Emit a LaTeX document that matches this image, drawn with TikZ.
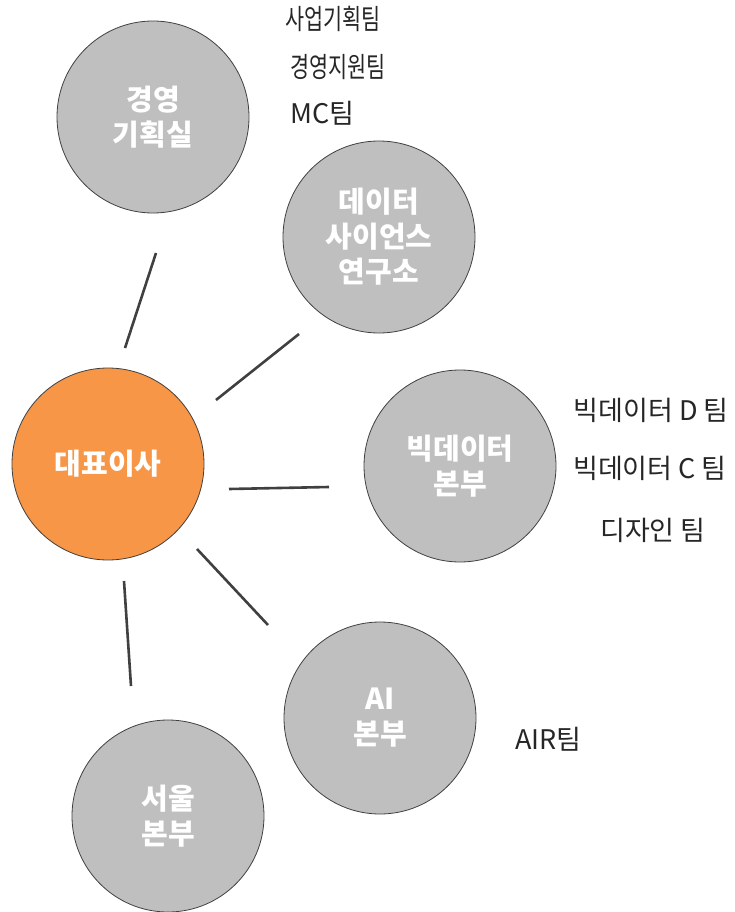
\documentclass[tikz,border=0pt]{standalone}
\usepackage{fontspec}
\setmainfont{Noto Sans CJK KR}
\newfontfamily\narrowfont{Noto Sans CJK KR}[FakeStretch=0.74]
\definecolor{orangefill}{HTML}{F79646}
\definecolor{grayfill}{HTML}{BFBFBF}
\definecolor{rimcol}{HTML}{404040}
\definecolor{txtcol}{HTML}{262626}
\begin{document}
\begin{tikzpicture}[x=1pt,y=-1pt,
  unit/.style={circle,draw=rimcol,line width=0.8pt,minimum size=192pt,inner sep=0pt,align=center,text=white,font=\bfseries\fontsize{29}{35}\selectfont},
  grayunit/.style={unit,fill=grayfill},
  orangeunit/.style={unit,fill=orangefill},
  team/.style={text=txtcol,font=\fontsize{27}{30}\selectfont,inner sep=0pt},
  narrowteam/.style={team,font=\narrowfont\fontsize{28}{30}\selectfont},
  link/.style={draw=rimcol,line width=2.6pt}]
\useasboundingbox (0,0) rectangle (734,912);
\node[grayunit] (plan) at (153,117) {경영\\기획실};
\node[grayunit] (ds) at (379,237) {데이터\\사이언스\\연구소};
\node[grayunit] (bd) at (460,466) {빅데이터\\본부};
\node[orangeunit] (ceo) at (108,464) {대표이사};
\node[grayunit] (ai) at (380,718) {AI\\본부};
\node[grayunit] (seoul) at (168,816) {서울\\본부};
\node[narrowteam,anchor=west] (t1) at (285,19) {사업기획팀};
\node[narrowteam,anchor=west] (t2) at (290,67) {경영지원팀};
\node[team,anchor=west] (t3) at (290,113) {MC팀};
\node[team,anchor=east] (t4) at (729,410) {빅데이터 D 팀};
\node[team,anchor=east] (t5) at (727,468) {빅데이터 C 팀};
\node[team] (t6) at (653,530) {디자인 팀};
\node[team,anchor=west] (t7) at (515,739) {AIR팀};
\coordinate (a1) at (125,348); \coordinate (a2) at (156,253);
\coordinate (b1) at (216,400); \coordinate (b2) at (299,334);
\coordinate (c1) at (229,489); \coordinate (c2) at (329,487);
\coordinate (d1) at (197,549); \coordinate (d2) at (268,625);
\coordinate (e1) at (124,581); \coordinate (e2) at (131,686);
\draw[link] (a1) -- (a2);
\draw[link] (b1) -- (b2);
\draw[link] (c1) -- (c2);
\draw[link] (d1) -- (d2);
\draw[link] (e1) -- (e2);
\end{tikzpicture}
\end{document}
